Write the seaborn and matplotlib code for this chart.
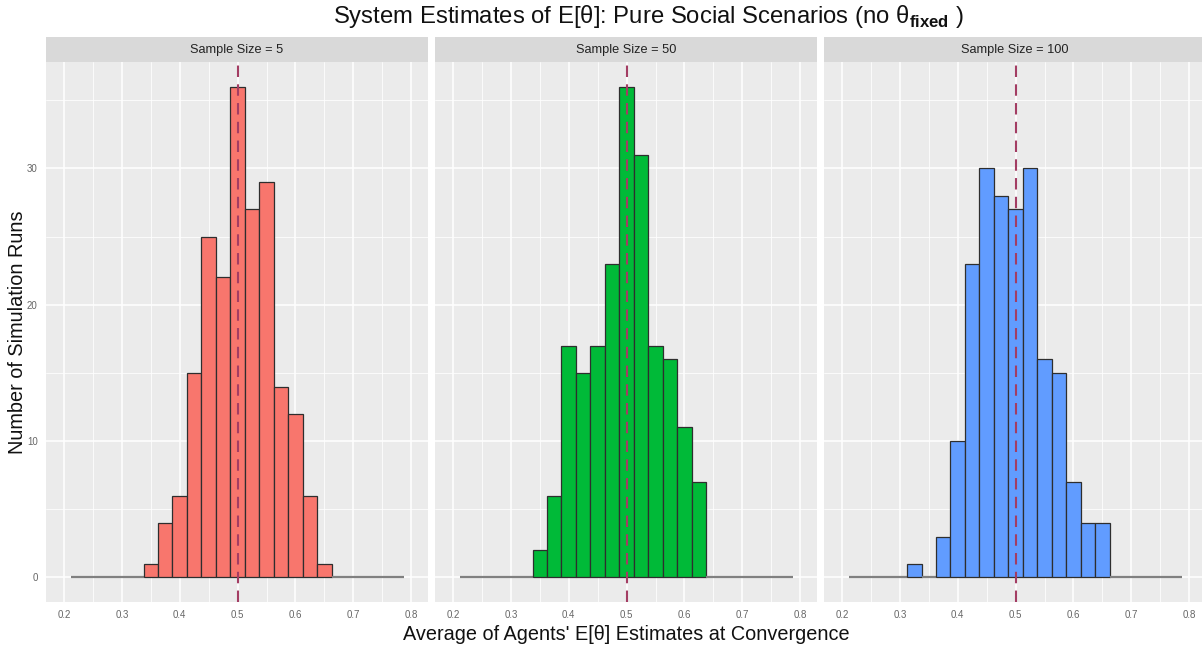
import numpy as np
import pandas as pd
import matplotlib
matplotlib.use("Agg")
import matplotlib.pyplot as plt
import seaborn as sns
from matplotlib.patches import Rectangle

# ---- data: runs per bin of the agents' average estimate ----
bin_centers = [0.225, 0.250, 0.275, 0.300, 0.325, 0.350, 0.375, 0.400,
               0.425, 0.450, 0.475, 0.500, 0.525, 0.550, 0.575, 0.600,
               0.625, 0.650, 0.675, 0.700, 0.725, 0.750, 0.775]
bin_width = 0.025

sample_sizes = [5, 50, 100]
runs_n5 = [0, 0, 0, 0, 0, 1, 4, 6, 15, 25, 22, 36, 27, 29, 14, 12, 6, 1,
           0, 0, 0, 0, 0]
runs_n50 = [0, 0, 0, 0, 0, 2, 6, 17, 15, 17, 23, 36, 31, 17, 16, 11, 7,
            0, 0, 0, 0, 0, 0]
runs_n100 = [0, 0, 0, 0, 1, 0, 3, 10, 23, 30, 28, 27, 30, 16, 15, 7, 4, 4,
             0, 0, 0, 0, 0]
true_value = 0.5

fill_colors = ["#F8766D", "#00BA38", "#619CFF"]

x_major = [0.2, 0.3, 0.4, 0.5, 0.6, 0.7, 0.8]
x_minor = [0.25, 0.35, 0.45, 0.55, 0.65, 0.75]
y_major = [0, 10, 20, 30]
y_minor = [5, 15, 25, 35]

df = pd.DataFrame({
    "sample_size": np.repeat(sample_sizes, len(bin_centers)),
    "estimate": bin_centers * len(sample_sizes),
    "runs": runs_n5 + runs_n50 + runs_n100,
})

# ---- styling ----
sns.set_style("white")
plt.rcParams["font.family"] = ["Liberation Sans", "DejaVu Sans"]
plt.rcParams["mathtext.fontset"] = "custom"
plt.rcParams["mathtext.rm"] = "Liberation Sans"
plt.rcParams["mathtext.bf"] = "Liberation Sans:bold"

W, H = 1202, 648
fig = plt.figure(figsize=(W / 100, H / 100), dpi=100)

panel_left = [46, 435, 824]
panel_w = 382
panel_top, panel_bottom = 62, 602
strip_h = 25

hist_range = (bin_centers[0] - bin_width / 2, bin_centers[-1] + bin_width / 2)

for i, (n, color) in enumerate(zip(sample_sizes, fill_colors)):
    ax = fig.add_axes([panel_left[i] / W, (H - panel_bottom) / H,
                       panel_w / W, (panel_bottom - panel_top) / H])
    ax.set_facecolor("#EBEBEB")
    sub = df[df["sample_size"] == n]
    sns.histplot(data=sub, x="estimate", weights="runs",
                 bins=len(bin_centers), binrange=hist_range,
                 color=color, alpha=1.0, edgecolor="#2E2E2E",
                 linewidth=0.9, ax=ax, zorder=3)
    for p in ax.patches:
        if p.get_height() == 0:
            p.set_edgecolor("#808080")
            p.set_linewidth(1.6)

    ax.axvline(true_value, color="#A33D63", lw=1.5, ls=(0, (5.5, 3.5)),
               zorder=4)

    ax.set_xlim(0.169, 0.829)
    ax.set_ylim(-1.8, 37.8)
    ax.set_xticks(x_major)
    ax.set_xticks(x_minor, minor=True)
    ax.set_yticks(y_major)
    ax.set_yticks(y_minor, minor=True)
    ax.set_xticklabels([f"{v:.1f}" for v in x_major])
    ax.grid(which="major", color="white", lw=1.1, zorder=0)
    ax.grid(which="minor", color="white", lw=0.55, zorder=0)
    ax.set_axisbelow(True)
    for s in ax.spines.values():
        s.set_visible(False)
    ax.tick_params(which="major", length=3, width=0.8, color="#444444",
                   labelsize=7, labelcolor="#666666", pad=3)
    ax.tick_params(which="minor", length=0)
    if i > 0:
        ax.tick_params(axis="y", which="both", left=False, labelleft=False)
    ax.set_xlabel("")
    ax.set_ylabel("")

    # facet strip
    ax.add_patch(Rectangle((0, 1), 1, strip_h / (panel_bottom - panel_top),
                           transform=ax.transAxes, clip_on=False,
                           facecolor="#D9D9D9", edgecolor="none"))
    ax.text(0.5, 1 + (strip_h / 2) / (panel_bottom - panel_top),
            f"Sample Size = {n}", transform=ax.transAxes, ha="center",
            va="center", fontsize=9.2, color="#222222")

fig.text(648 / W, 1 - 16 / H,
         "System Estimates of E[θ]: Pure Social Scenarios (no θ$_{\\mathbf{fixed}}$ )",
         ha="center", va="center", fontsize=17.2, color="#111111")
fig.text(626 / W, 1 - 634 / H,
         "Average of Agents' E[θ] Estimates at Convergence",
         ha="center", va="center", fontsize=14.3, color="#111111")
fig.text(18 / W, 1 - 332 / H, "Number of Simulation Runs",
         ha="center", va="center", rotation=90, fontsize=14.3,
         color="#111111")

fig.savefig("out.png", dpi=100)
